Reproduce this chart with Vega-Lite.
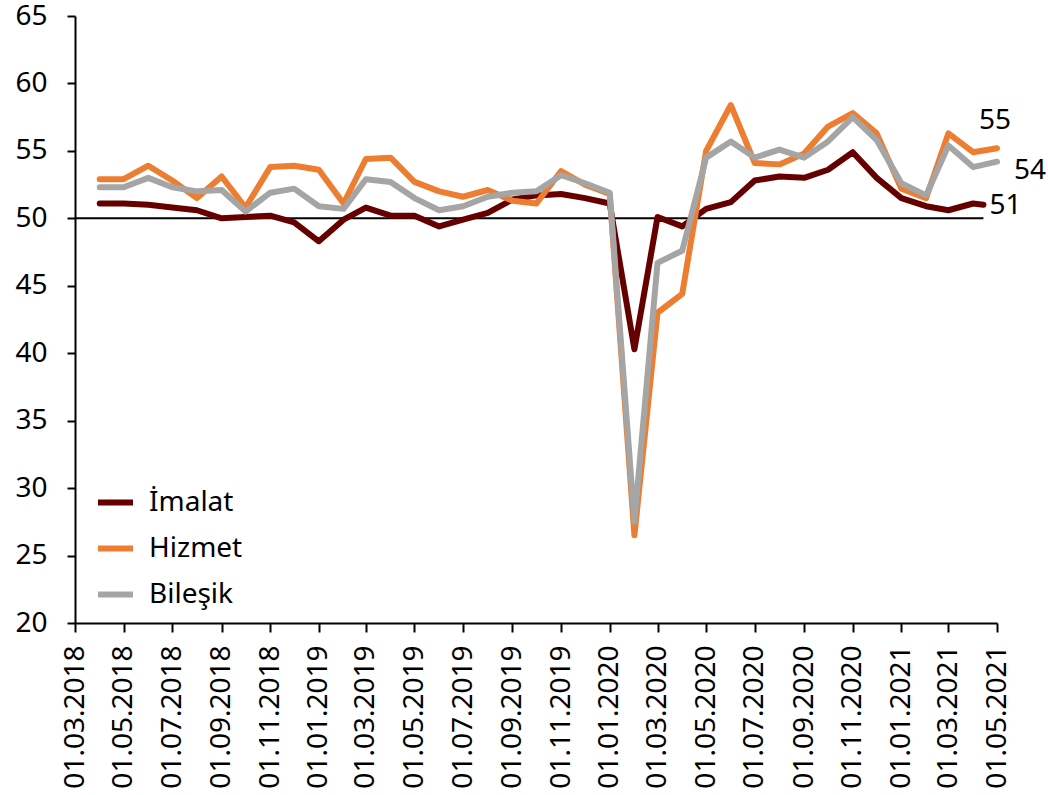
{
  "$schema": "https://vega.github.io/schema/vega-lite/v6.json",
  "width": 922,
  "height": 607,
  "autosize": "none",
  "padding": {"left": 75, "top": 16, "right": 51, "bottom": 172},
  "background": "white",
  "config": {"view": {"stroke": null}, "font": "Noto Sans"},
  "datasets": {
    "ref": [{"date": "2018-03-01", "date2": "2021-04-14", "value": 50}],
    "pmi": [
      {"series": "İmalat", "date": "2018-04-01", "value": 51.1},
      {"series": "İmalat", "date": "2018-05-01", "value": 51.1},
      {"series": "İmalat", "date": "2018-06-01", "value": 51.0},
      {"series": "İmalat", "date": "2018-07-01", "value": 50.8},
      {"series": "İmalat", "date": "2018-08-01", "value": 50.6},
      {"series": "İmalat", "date": "2018-09-01", "value": 50.0},
      {"series": "İmalat", "date": "2018-10-01", "value": 50.1},
      {"series": "İmalat", "date": "2018-11-01", "value": 50.2},
      {"series": "İmalat", "date": "2018-12-01", "value": 49.7},
      {"series": "İmalat", "date": "2019-01-01", "value": 48.3},
      {"series": "İmalat", "date": "2019-02-01", "value": 49.9},
      {"series": "İmalat", "date": "2019-03-01", "value": 50.8},
      {"series": "İmalat", "date": "2019-04-01", "value": 50.2},
      {"series": "İmalat", "date": "2019-05-01", "value": 50.2},
      {"series": "İmalat", "date": "2019-06-01", "value": 49.4},
      {"series": "İmalat", "date": "2019-07-01", "value": 49.9},
      {"series": "İmalat", "date": "2019-08-01", "value": 50.4},
      {"series": "İmalat", "date": "2019-09-01", "value": 51.4},
      {"series": "İmalat", "date": "2019-10-01", "value": 51.7},
      {"series": "İmalat", "date": "2019-11-01", "value": 51.8},
      {"series": "İmalat", "date": "2019-12-01", "value": 51.5},
      {"series": "İmalat", "date": "2020-01-01", "value": 51.1},
      {"series": "İmalat", "date": "2020-02-01", "value": 40.3},
      {"series": "İmalat", "date": "2020-03-01", "value": 50.1},
      {"series": "İmalat", "date": "2020-04-01", "value": 49.4},
      {"series": "İmalat", "date": "2020-05-01", "value": 50.7},
      {"series": "İmalat", "date": "2020-06-01", "value": 51.2},
      {"series": "İmalat", "date": "2020-07-01", "value": 52.8},
      {"series": "İmalat", "date": "2020-08-01", "value": 53.1},
      {"series": "İmalat", "date": "2020-09-01", "value": 53.0},
      {"series": "İmalat", "date": "2020-10-01", "value": 53.6},
      {"series": "İmalat", "date": "2020-11-01", "value": 54.9},
      {"series": "İmalat", "date": "2020-12-01", "value": 53.0},
      {"series": "İmalat", "date": "2021-01-01", "value": 51.5},
      {"series": "İmalat", "date": "2021-02-01", "value": 50.9},
      {"series": "İmalat", "date": "2021-03-01", "value": 50.6},
      {"series": "İmalat", "date": "2021-04-01", "value": 51.1},
      {"series": "İmalat", "date": "2021-04-14", "value": 51.0, "last": true},
      {"series": "Hizmet", "date": "2018-04-01", "value": 52.9},
      {"series": "Hizmet", "date": "2018-05-01", "value": 52.9},
      {"series": "Hizmet", "date": "2018-06-01", "value": 53.9},
      {"series": "Hizmet", "date": "2018-07-01", "value": 52.8},
      {"series": "Hizmet", "date": "2018-08-01", "value": 51.5},
      {"series": "Hizmet", "date": "2018-09-01", "value": 53.1},
      {"series": "Hizmet", "date": "2018-10-01", "value": 50.8},
      {"series": "Hizmet", "date": "2018-11-01", "value": 53.8},
      {"series": "Hizmet", "date": "2018-12-01", "value": 53.9},
      {"series": "Hizmet", "date": "2019-01-01", "value": 53.6},
      {"series": "Hizmet", "date": "2019-02-01", "value": 51.1},
      {"series": "Hizmet", "date": "2019-03-01", "value": 54.4},
      {"series": "Hizmet", "date": "2019-04-01", "value": 54.5},
      {"series": "Hizmet", "date": "2019-05-01", "value": 52.7},
      {"series": "Hizmet", "date": "2019-06-01", "value": 52.0},
      {"series": "Hizmet", "date": "2019-07-01", "value": 51.6},
      {"series": "Hizmet", "date": "2019-08-01", "value": 52.1},
      {"series": "Hizmet", "date": "2019-09-01", "value": 51.3},
      {"series": "Hizmet", "date": "2019-10-01", "value": 51.1},
      {"series": "Hizmet", "date": "2019-11-01", "value": 53.5},
      {"series": "Hizmet", "date": "2019-12-01", "value": 52.5},
      {"series": "Hizmet", "date": "2020-01-01", "value": 51.8},
      {"series": "Hizmet", "date": "2020-02-01", "value": 26.5},
      {"series": "Hizmet", "date": "2020-03-01", "value": 43.0},
      {"series": "Hizmet", "date": "2020-04-01", "value": 44.4},
      {"series": "Hizmet", "date": "2020-05-01", "value": 55.0},
      {"series": "Hizmet", "date": "2020-06-01", "value": 58.4},
      {"series": "Hizmet", "date": "2020-07-01", "value": 54.1},
      {"series": "Hizmet", "date": "2020-08-01", "value": 54.0},
      {"series": "Hizmet", "date": "2020-09-01", "value": 54.8},
      {"series": "Hizmet", "date": "2020-10-01", "value": 56.8},
      {"series": "Hizmet", "date": "2020-11-01", "value": 57.8},
      {"series": "Hizmet", "date": "2020-12-01", "value": 56.3},
      {"series": "Hizmet", "date": "2021-01-01", "value": 52.2},
      {"series": "Hizmet", "date": "2021-02-01", "value": 51.5},
      {"series": "Hizmet", "date": "2021-03-01", "value": 56.3},
      {"series": "Hizmet", "date": "2021-04-01", "value": 54.9},
      {"series": "Hizmet", "date": "2021-05-01", "value": 55.2, "last": true},
      {"series": "Bileşik", "date": "2018-04-01", "value": 52.3},
      {"series": "Bileşik", "date": "2018-05-01", "value": 52.3},
      {"series": "Bileşik", "date": "2018-06-01", "value": 53.0},
      {"series": "Bileşik", "date": "2018-07-01", "value": 52.3},
      {"series": "Bileşik", "date": "2018-08-01", "value": 52.0},
      {"series": "Bileşik", "date": "2018-09-01", "value": 52.1},
      {"series": "Bileşik", "date": "2018-10-01", "value": 50.5},
      {"series": "Bileşik", "date": "2018-11-01", "value": 51.9},
      {"series": "Bileşik", "date": "2018-12-01", "value": 52.2},
      {"series": "Bileşik", "date": "2019-01-01", "value": 50.9},
      {"series": "Bileşik", "date": "2019-02-01", "value": 50.7},
      {"series": "Bileşik", "date": "2019-03-01", "value": 52.9},
      {"series": "Bileşik", "date": "2019-04-01", "value": 52.7},
      {"series": "Bileşik", "date": "2019-05-01", "value": 51.5},
      {"series": "Bileşik", "date": "2019-06-01", "value": 50.6},
      {"series": "Bileşik", "date": "2019-07-01", "value": 50.9},
      {"series": "Bileşik", "date": "2019-08-01", "value": 51.6},
      {"series": "Bileşik", "date": "2019-09-01", "value": 51.9},
      {"series": "Bileşik", "date": "2019-10-01", "value": 52.0},
      {"series": "Bileşik", "date": "2019-11-01", "value": 53.2},
      {"series": "Bileşik", "date": "2019-12-01", "value": 52.6},
      {"series": "Bileşik", "date": "2020-01-01", "value": 51.9},
      {"series": "Bileşik", "date": "2020-02-01", "value": 27.5},
      {"series": "Bileşik", "date": "2020-03-01", "value": 46.7},
      {"series": "Bileşik", "date": "2020-04-01", "value": 47.6},
      {"series": "Bileşik", "date": "2020-05-01", "value": 54.5},
      {"series": "Bileşik", "date": "2020-06-01", "value": 55.7},
      {"series": "Bileşik", "date": "2020-07-01", "value": 54.5},
      {"series": "Bileşik", "date": "2020-08-01", "value": 55.1},
      {"series": "Bileşik", "date": "2020-09-01", "value": 54.5},
      {"series": "Bileşik", "date": "2020-10-01", "value": 55.7},
      {"series": "Bileşik", "date": "2020-11-01", "value": 57.5},
      {"series": "Bileşik", "date": "2020-12-01", "value": 55.8},
      {"series": "Bileşik", "date": "2021-01-01", "value": 52.6},
      {"series": "Bileşik", "date": "2021-02-01", "value": 51.7},
      {"series": "Bileşik", "date": "2021-03-01", "value": 55.4},
      {"series": "Bileşik", "date": "2021-04-01", "value": 53.8},
      {"series": "Bileşik", "date": "2021-05-01", "value": 54.2, "last": true}
    ]
  },
  "encoding": {
    "x": {
      "field": "date",
      "type": "temporal",
      "title": null,
      "scale": {
        "type": "utc",
        "domain": [
          {"year": 2018, "month": 3, "date": 1, "utc": true},
          {"year": 2021, "month": 5, "date": 1, "utc": true}
        ]
      },
      "axis": {
        "values": [
          {"year": 2018, "month": 3, "date": 1, "utc": true},
          {"year": 2018, "month": 5, "date": 1, "utc": true},
          {"year": 2018, "month": 7, "date": 1, "utc": true},
          {"year": 2018, "month": 9, "date": 1, "utc": true},
          {"year": 2018, "month": 11, "date": 1, "utc": true},
          {"year": 2019, "month": 1, "date": 1, "utc": true},
          {"year": 2019, "month": 3, "date": 1, "utc": true},
          {"year": 2019, "month": 5, "date": 1, "utc": true},
          {"year": 2019, "month": 7, "date": 1, "utc": true},
          {"year": 2019, "month": 9, "date": 1, "utc": true},
          {"year": 2019, "month": 11, "date": 1, "utc": true},
          {"year": 2020, "month": 1, "date": 1, "utc": true},
          {"year": 2020, "month": 3, "date": 1, "utc": true},
          {"year": 2020, "month": 5, "date": 1, "utc": true},
          {"year": 2020, "month": 7, "date": 1, "utc": true},
          {"year": 2020, "month": 9, "date": 1, "utc": true},
          {"year": 2020, "month": 11, "date": 1, "utc": true},
          {"year": 2021, "month": 1, "date": 1, "utc": true},
          {"year": 2021, "month": 3, "date": 1, "utc": true},
          {"year": 2021, "month": 5, "date": 1, "utc": true}
        ],
        "labelExpr": "utcFormat(datum.value, '%d.%m.%Y')",
        "labelAngle": 270,
        "labelAlign": "right",
        "labelBaseline": "middle",
        "labelFontSize": 28,
        "labelFont": "Noto Sans",
        "labelColor": "black",
        "labelPadding": 13,
        "labelOverlap": false,
        "labelFlush": false,
        "labelBound": false,
        "tickSize": 9,
        "tickColor": "black",
        "tickWidth": 2,
        "domainColor": "black",
        "domainWidth": 2,
        "grid": false
      }
    },
    "y": {
      "field": "value",
      "type": "quantitative",
      "title": null,
      "scale": {"domain": [20, 65], "nice": false, "zero": false},
      "axis": {
        "values": [20, 25, 30, 35, 40, 45, 50, 55, 60, 65],
        "labelFontSize": 28,
        "labelFont": "Noto Sans",
        "labelColor": "black",
        "labelPadding": 20,
        "labelFlush": false,
        "labelBound": false,
        "labelOverlap": false,
        "tickSize": 8,
        "tickColor": "black",
        "tickWidth": 2,
        "domainColor": "black",
        "domainWidth": 2,
        "grid": false
      }
    }
  },
  "layer": [
    {
      "data": {"name": "ref"},
      "mark": {"type": "rule", "color": "black", "strokeWidth": 2},
      "encoding": {"x2": {"field": "date2"}}
    },
    {
      "data": {"name": "pmi"},
      "mark": {"type": "line", "strokeWidth": 6, "strokeCap": "round", "strokeJoin": "round"},
      "encoding": {
        "color": {
          "field": "series",
          "type": "nominal",
          "sort": ["İmalat", "Hizmet", "Bileşik"],
          "scale": {"domain": ["İmalat", "Hizmet", "Bileşik"], "range": ["#660000", "#ED7D31", "#A5A5A5"]},
          "legend": {
            "orient": "none",
            "legendX": 20,
            "legendY": 466,
            "title": null,
            "padding": 0,
            "symbolType": "stroke",
            "symbolStrokeWidth": 6,
            "symbolSize": 1225,
            "labelFontSize": 28,
            "labelFont": "Noto Sans",
            "labelColor": "black",
            "labelOffset": 13,
            "rowPadding": 11
          }
        }
      }
    },
    {
      "data": {"name": "pmi"},
      "transform": [{"filter": "datum.last === true && datum.series === 'Hizmet'"}],
      "mark": {"type": "text", "fontSize": 28, "font": "Noto Sans", "color": "black", "align": "center", "baseline": "alphabetic", "dx": -2, "dy": -19},
      "encoding": {"text": {"field": "value", "type": "quantitative", "format": ".0f"}}
    },
    {
      "data": {"name": "pmi"},
      "transform": [{"filter": "datum.last === true && datum.series === 'Bileşik'"}],
      "mark": {"type": "text", "fontSize": 28, "font": "Noto Sans", "color": "black", "align": "center", "baseline": "alphabetic", "dx": 33, "dy": 17},
      "encoding": {"text": {"field": "value", "type": "quantitative", "format": ".0f"}}
    },
    {
      "data": {"name": "pmi"},
      "transform": [{"filter": "datum.last === true && datum.series === 'İmalat'"}],
      "mark": {"type": "text", "fontSize": 28, "font": "Noto Sans", "color": "black", "align": "center", "baseline": "alphabetic", "dx": 22, "dy": 9},
      "encoding": {"text": {"field": "value", "type": "quantitative", "format": ".0f"}}
    }
  ]
}
